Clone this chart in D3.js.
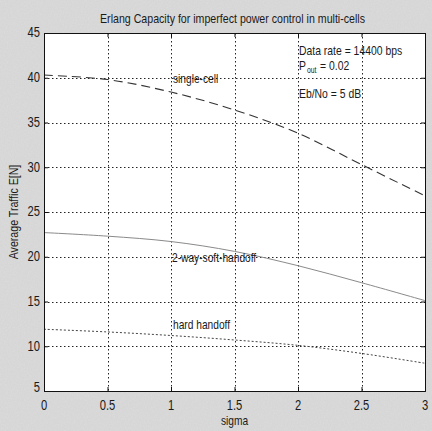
<!DOCTYPE html>
<html><head><meta charset="utf-8">
<script src="https://cdn.jsdelivr.net/npm/d3@7/dist/d3.min.js"></script>
<style>html,body{margin:0;padding:0;background:#fff;}svg{display:block;}</style>
</head><body>
<script>
const sigma = [0, 0.5, 1, 1.5, 2, 2.5, 3];
const singleCell = [40.3, 39.8, 38.4, 36.4, 33.8, 30.3, 26.8];
const softHandoff = [22.7, 22.3, 21.7, 20.6, 19.0, 17.1, 15.1];
const hardHandoff = [11.9, 11.6, 11.2, 10.7, 10.1, 9.2, 8.1];
const xTicks = [0, 0.5, 1, 1.5, 2, 2.5, 3];
const yTicks = [5, 10, 15, 20, 25, 30, 35, 40, 45];
const title = "Erlang Capacity for imperfect power control in multi-cells";

const W = 432, H = 431;
const m = {l: 44, r: 7, t: 33, b: 40};
const svg = d3.select("body").append("svg").attr("width", W).attr("height", H);
const defs = svg.append("defs");
const f = defs.append("filter").attr("id", "grain").attr("x", 0).attr("y", 0).attr("width", 1).attr("height", 1);
f.append("feTurbulence").attr("type", "fractalNoise").attr("baseFrequency", 0.7).attr("numOctaves", 2).attr("seed", 3).attr("result", "n");
f.append("feColorMatrix").attr("in", "n").attr("type", "matrix")
  .attr("values", "0 0 0 0 0.72  0 0 0 0 0.72  0 0 0 0 0.72  1.2 0 0 0 -0.35").attr("result", "c");
f.append("feComposite").attr("in", "c").attr("in2", "SourceGraphic").attr("operator", "over");

svg.append("rect").attr("x", 0).attr("y", 0).attr("width", W).attr("height", H).attr("fill", "#d6d6d6");
svg.append("rect").attr("x", 0).attr("y", 0).attr("width", W).attr("height", H).attr("fill", "#d6d6d6").attr("filter", "url(#grain)");

const x = d3.scaleLinear().domain([0, 3]).range([m.l, W - m.r]);
const y = d3.scaleLinear().domain([5, 45]).range([H - m.b, m.t]);

const font = "'Liberation Sans', Arial, sans-serif";
function txt(g, px, py, s, size, anchor, sx, base) {
  return g.append("text").attr("transform", `translate(${px},${py}) scale(${sx},1)`)
    .attr("text-anchor", anchor || "start").attr("dominant-baseline", base || "alphabetic")
    .attr("font-family", font).attr("font-size", size).attr("fill", "#1a1a1a").text(s);
}

// plot area
svg.append("rect").attr("x", x(0)).attr("y", y(45)).attr("width", x(3) - x(0)).attr("height", y(5) - y(45)).attr("fill", "#fff");

// grid
const grid = svg.append("g").attr("stroke", "#222").attr("stroke-width", 1).attr("stroke-dasharray", "1.5,2.5");
grid.selectAll(".gx").data(xTicks.slice(1, -1)).join("line")
  .attr("x1", d => Math.round(x(d)) + 0.5).attr("x2", d => Math.round(x(d)) + 0.5).attr("y1", y(45)).attr("y2", y(5));
grid.selectAll(".gy").data(yTicks.slice(1, -1)).join("line")
  .attr("y1", d => Math.round(y(d)) + 0.5).attr("y2", d => Math.round(y(d)) + 0.5).attr("x1", x(0)).attr("x2", x(3));

// curves
const line = vals => d3.line().x((d, i) => x(sigma[i])).y(d => y(d)).curve(d3.curveCatmullRom)(vals);
svg.append("path").attr("d", line(singleCell)).attr("fill", "none").attr("stroke", "#333").attr("stroke-width", 1.1).attr("stroke-dasharray", "9,5");
svg.append("path").attr("d", line(softHandoff)).attr("fill", "none").attr("stroke", "#8a8a8a").attr("stroke-width", 1);
svg.append("path").attr("d", line(hardHandoff)).attr("fill", "none").attr("stroke", "#444").attr("stroke-width", 1).attr("stroke-dasharray", "2,2");

// axes frame and ticks
const ax = svg.append("g");
ax.append("g").attr("transform", `translate(0,${y(5)})`).call(d3.axisBottom(x).tickValues(xTicks).tickSize(-4).tickFormat(""));
ax.append("g").attr("transform", `translate(0,${y(45)})`).call(d3.axisTop(x).tickValues(xTicks).tickSize(-4).tickFormat(""));
ax.append("g").attr("transform", `translate(${x(0)},0)`).call(d3.axisLeft(y).tickValues(yTicks).tickSize(-4).tickFormat(""));
ax.append("g").attr("transform", `translate(${x(3)},0)`).call(d3.axisRight(y).tickValues(yTicks).tickSize(-4).tickFormat(""));
ax.selectAll("path,line").attr("stroke", "#111").attr("stroke-width", 1);

// tick labels
const lab = svg.append("g");
xTicks.forEach(t => txt(lab, x(t), H - m.b + 19, String(t), 14, "middle", 0.8));
yTicks.forEach(t => txt(lab, x(0) - 4, y(t) + (t === 5 ? -3 : 0), String(t), 14, "end", 0.8, "central"));

// titles
txt(svg, (x(0) + x(3)) / 2 - 2, 23, title, 12.5, "middle", 0.85);
txt(svg, (x(0) + x(3)) / 2, 425, "sigma", 12, "middle", 0.85);
svg.append("text").attr("transform", `translate(18,${(y(5) + y(45)) / 2}) rotate(-90) scale(0.85,1)`)
  .attr("text-anchor", "middle").attr("font-family", font).attr("font-size", 12.5).attr("fill", "#1a1a1a").text("Average Traffic E[N]");

// annotations
const an = svg.append("g");
txt(an, x(2.0) + 1, 55, "Data rate = 14400 bps", 13, "start", 0.8);
txt(an, x(2.0) + 1, 70, "P", 13, "start", 0.8);
txt(an, x(2.0) + 9, 73, "out", 8.5, "start", 0.8);
txt(an, x(2.0) + 22, 70, "= 0.02", 13, "start", 0.8);
txt(an, x(2.0) + 1, 98, "Eb/No = 5 dB", 13, "start", 0.8);
txt(an, x(1.0) + 2, y(40) + 1, "single-cell", 12, "start", 0.85, "central");
txt(an, x(1.0) + 1, y(20) + 1, "2-way-soft-handoff", 12, "start", 0.85, "central");
txt(an, x(1.0) + 2, 329, "hard handoff", 12, "start", 0.85);
</script>
</body></html>
